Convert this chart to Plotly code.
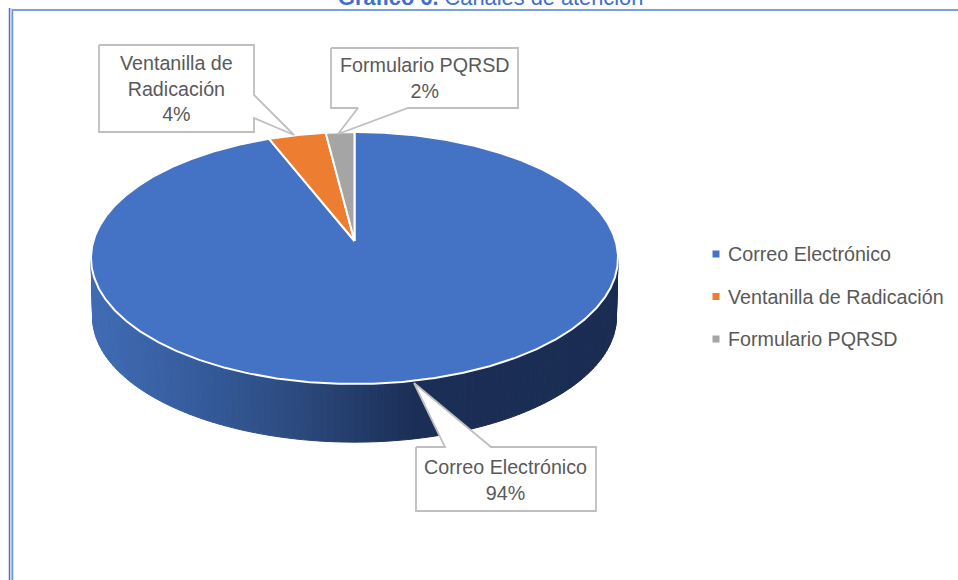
import numpy as np
import plotly.graph_objects as go

# ---- data ----
categories = ["Correo Electrónico", "Ventanilla de Radicación", "Formulario PQRSD"]
values = [94, 4, 2]
colors = ["#4472C4", "#ED7D31", "#A5A5A5"]
title_bold = "Gráfico 6."
title_rest = " Canales de atención"

# ---- pie projection (perspective view of a circle) ----
CX, CY, A, B, K = 354.5, 241.0, 261.1, 123.7, 0.135
DEPTH = 59.0
FONT = "Liberation Sans, Arial"
FS = 19.7
TXT = "#595959"


def project(theta, scale=1.0, dy=0.0):
    u, v = np.sin(theta), -np.cos(theta)
    w = 1 - K * v
    return CX + scale * A * u / w, CY + dy + scale * B * v / w


def lerp_color(x):
    stops_x = [92, 200, 300, 415, 618]
    stops_c = [(64, 107, 180), (53, 91, 155), (43, 73, 125), (27, 46, 86), (26, 44, 82)]
    c = [np.interp(x, stops_x, [s[i] for s in stops_c]) for i in range(3)]
    return "rgb(%d,%d,%d)" % tuple(int(round(i)) for i in c)


fig = go.Figure()

# wall of the pie, drawn as narrow strips that carry the shading
edges = np.radians(np.linspace(97.8, 262.2, 121))
for t0, t1 in zip(edges[:-1], edges[1:]):
    x0, y0 = project(t0)
    x1, y1 = project(t1)
    x2, y2 = project(t1, 0.994, DEPTH)
    x3, y3 = project(t0, 0.994, DEPTH)
    col = lerp_color((x0 + x1) / 2)
    fig.add_trace(go.Scatter(x=[x0, x1, x2, x3, x0], y=[y0, y1, y2, y3, y0], mode="lines",
                             fill="toself", fillcolor=col, line=dict(color=col, width=1),
                             showlegend=False, hoverinfo="skip"))

# top face: slices run clockwise from 12 o'clock in category order
total = sum(values)
start = 0.0
for name, val, col in zip(categories, values, colors):
    stop = start + 360.0 * val / total
    th = np.radians(np.linspace(start, stop, max(8, int(stop - start) * 2)))
    x, y = project(th)
    xs = np.concatenate([[CX], x, [CX]])
    ys = np.concatenate([[CY], y, [CY]])
    fig.add_trace(go.Scatter(x=xs, y=ys, mode="lines", fill="toself", fillcolor=col,
                             line=dict(color="white", width=2), name=name,
                             showlegend=False, hoverinfo="name"))
    start = stop

# callouts (box outline with a pointer)
callouts = [
    dict(poly=[(99, 45), (254, 45), (254, 95), (294, 135), (254, 118), (254, 132), (99, 132), (99, 45)],
         idx=1, lines=["Ventanilla de", "Radicación"], cx=176.5, ty=88),
    dict(poly=[(331, 48), (518, 48), (518, 108), (408, 108), (338, 134), (358, 108), (331, 108), (331, 48)],
         idx=2, lines=["Formulario PQRSD"], cx=424.5, ty=77.5),
    dict(poly=[(416, 447), (445, 447), (414, 383), (491, 447), (596, 447), (596, 511), (416, 511), (416, 447)],
         idx=0, lines=["Correo Electrónico"], cx=505.5, ty=479.5),
]
annotations = []
for c in callouts:
    xs, ys = zip(*c["poly"])
    fig.add_trace(go.Scatter(x=xs, y=ys, mode="lines", fill="toself", fillcolor="white",
                             line=dict(color="#BFBFBF", width=1.8), showlegend=False, hoverinfo="skip"))
    pct = round(100 * values[c["idx"]] / total)
    annotations.append(dict(x=c["cx"], y=c["ty"], xref="x", yref="y", showarrow=False,
                            text="<br>".join(c["lines"] + [f"{pct}%"]),
                            font=dict(family=FONT, size=FS, color=TXT), align="center"))

# legend
legend_y = [254, 296.5, 339]
fig.add_trace(go.Scatter(x=[716] * 3, y=legend_y, mode="markers",
                         marker=dict(symbol="square", size=7, color=colors, line=dict(width=0)),
                         showlegend=False, hoverinfo="skip"))
for name, y in zip(categories, legend_y):
    annotations.append(dict(x=725.5, y=y, xref="x", yref="y", xanchor="left", showarrow=False,
                            text=name, font=dict(family=FONT, size=FS, color=TXT)))

# title, cut by the top of the page as in the source
annotations.append(dict(x=490.5 / 958, y=1.004, xref="paper", yref="paper", showarrow=False,
                        yanchor="middle", text=f"<b>{title_bold}</b>{title_rest}",
                        font=dict(family=FONT, size=21.8, color="#3F6FCB")))

# page frame
frame = [dict(type="line", xref="x", yref="y", x0=9.5, x1=9.5, y0=8, y1=580, line=dict(color="#4F74C4", width=1.5)),
         dict(type="line", xref="x", yref="y", x0=11, x1=11, y0=8, y1=580, line=dict(color="#C5D4F0", width=2)),
         dict(type="line", xref="x", yref="y", x0=12.5, x1=12.5, y0=10, y1=580, line=dict(color="#6F94DA", width=1.5)),
         dict(type="line", xref="x", yref="y", x0=12, x1=958, y0=10, y1=10, line=dict(color="#7C9FDF", width=2))]

fig.update_layout(width=958, height=580, margin=dict(l=0, r=0, t=0, b=0), autosize=False,
                  paper_bgcolor="white", plot_bgcolor="white", showlegend=False,
                  xaxis=dict(range=[0, 958], visible=False, fixedrange=True),
                  yaxis=dict(range=[580, 0], visible=False, fixedrange=True),
                  annotations=annotations, shapes=frame)
fig.write_html("out.html", config=dict(displayModeBar=False),
               post_script="document.body.style.margin='0';document.body.style.overflow='hidden';")
